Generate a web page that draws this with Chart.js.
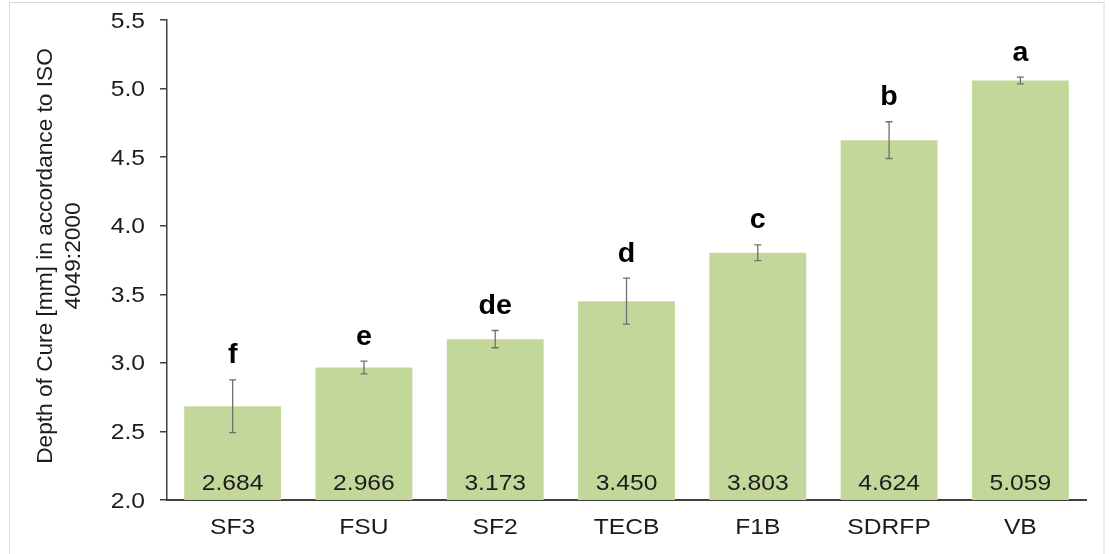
<!DOCTYPE html>
<html>
<head>
<meta charset="utf-8">
<title>Depth of Cure</title>
<script src="https://cdn.jsdelivr.net/npm/chart.js@4/dist/chart.umd.min.js"></script>
<style>
  html, body { margin: 0; padding: 0; background: #ffffff; }
  #wrap { width: 1110px; height: 554px; }
</style>
</head>
<body>
<div id="wrap"><canvas id="chart" width="1110" height="554"></canvas></div>
<script>
// Materials, mean depth of cure (mm), standard deviation and significance groups
const categories = ['SF3', 'FSU', 'SF2', 'TECB', 'F1B', 'SDRFP', 'VB'];
const depthMeans = [2.684, 2.966, 3.173, 3.450, 3.803, 4.624, 5.059];
const depthSD = [0.192, 0.046, 0.063, 0.168, 0.058, 0.134, 0.025];
const groupLetters = ['f', 'e', 'de', 'd', 'c', 'b', 'a'];
const yTickValues = [2.0, 2.5, 3.0, 3.5, 4.0, 4.5, 5.0, 5.5];
const yAxisTitle = ['Depth of Cure [mm] in accordance to ISO', '4049:2000'];

const FONT = 'Arial, "Liberation Sans", sans-serif';
const TEXT = '#1c1c1c';
const AXIS = '#3f3f3f';
const WIDE = 1.12;   // horizontal widening of the labels' typeface

// Draws text widened horizontally by sx around its anchor point
function wideText(ctx, text, x, y, sx, align, baseline) {
  ctx.save();
  ctx.translate(x, y);
  ctx.scale(sx, 1);
  ctx.textAlign = align;
  ctx.textBaseline = baseline;
  ctx.fillText(text, 0, 0);
  ctx.restore();
}

// Light frame around the whole figure
const framePlugin = {
  id: 'frame',
  beforeDraw(chart) {
    const ctx = chart.ctx;
    ctx.save();
    ctx.fillStyle = '#ffffff';
    ctx.fillRect(0, 0, chart.width, chart.height);
    ctx.strokeStyle = '#d9d9d9';
    ctx.lineWidth = 1;
    ctx.strokeRect(9.5, 2.5, 1094.5, 570);
    ctx.restore();
  }
};

// Axis labels: value ticks, category names and the two-line rotated title
const axisTextPlugin = {
  id: 'axisText',
  afterDraw(chart) {
    const ctx = chart.ctx;
    const xs = chart.scales.x;
    const ys = chart.scales.y;
    const area = chart.chartArea;
    ctx.save();
    ctx.fillStyle = TEXT;
    ctx.font = '22px ' + FONT;
    ys.ticks.forEach((t, i) => {
      wideText(ctx, Number(t.value).toFixed(1), 145, ys.getPixelForTick(i) + 1.5, WIDE, 'right', 'middle');
    });
    chart.data.labels.forEach((lab, i) => {
      wideText(ctx, lab, xs.getPixelForTick(i), 527.5, WIDE, 'center', 'middle');
    });
    const cy = (area.top + area.bottom) / 2 - 4;
    const baselines = [52, 80];
    yAxisTitle.forEach((line, i) => {
      ctx.save();
      ctx.translate(baselines[i], cy);
      ctx.rotate(-Math.PI / 2);
      ctx.scale(1.03, 1);
      ctx.textAlign = 'center';
      ctx.textBaseline = 'alphabetic';
      ctx.fillText(line, 0, 0);
      ctx.restore();
    });
    ctx.restore();
  }
};

// Error bars, group letters above them and mean values inside the bars
const annotatePlugin = {
  id: 'annotate',
  afterDatasetsDraw(chart) {
    const ctx = chart.ctx;
    const y = chart.scales.y;
    const meta = chart.getDatasetMeta(0);
    ctx.save();
    meta.data.forEach((bar, i) => {
      const x = bar.x;
      const top = y.getPixelForValue(depthMeans[i] + depthSD[i]);
      const bot = y.getPixelForValue(depthMeans[i] - depthSD[i]);
      const cap = 3.5;
      ctx.strokeStyle = '#6f6f6f';
      ctx.lineWidth = 1.3;
      ctx.beginPath();
      ctx.moveTo(x, top); ctx.lineTo(x, bot);
      ctx.moveTo(x - cap, top); ctx.lineTo(x + cap, top);
      ctx.moveTo(x - cap, bot); ctx.lineTo(x + cap, bot);
      ctx.stroke();

      ctx.fillStyle = '#000000';
      ctx.font = 'bold 27px ' + FONT;
      wideText(ctx, groupLetters[i], x, top - 16.5, 1.06, 'center', 'alphabetic');

      ctx.fillStyle = TEXT;
      ctx.font = '22px ' + FONT;
      wideText(ctx, depthMeans[i].toFixed(3), x, y.getPixelForValue(2.0) - 16.5, WIDE, 'center', 'middle');
    });
    ctx.restore();
  }
};

new Chart(document.getElementById('chart'), {
  type: 'bar',
  data: {
    labels: categories,
    datasets: [{
      data: depthMeans,
      backgroundColor: '#c4d79b',
      borderWidth: 0,
      barPercentage: 0.738,
      categoryPercentage: 1.0
    }]
  },
  options: {
    responsive: false,
    animation: false,
    devicePixelRatio: 1,
    layout: { padding: { left: 0, right: 24, top: 20, bottom: 0 } },
    plugins: {
      legend: { display: false },
      tooltip: { enabled: false }
    },
    scales: {
      x: {
        grid: { display: false, drawTicks: false },
        border: { display: true, color: AXIS, width: 2 },
        ticks: { display: false },
        afterFit(scale) { scale.height = 54; }
      },
      y: {
        min: 2.0,
        max: 5.5,
        afterBuildTicks(scale) {
          scale.ticks = yTickValues.map(v => ({ value: v }));
        },
        grid: {
          display: true,
          drawOnChartArea: false,
          drawTicks: true,
          tickLength: 7,
          color: AXIS,
          lineWidth: 1.5
        },
        border: { display: true, color: AXIS, width: 1.5 },
        ticks: { display: false },
        afterFit(scale) { scale.width = 167; }
      }
    }
  },
  plugins: [framePlugin, axisTextPlugin, annotatePlugin]
});
</script>
</body>
</html>
